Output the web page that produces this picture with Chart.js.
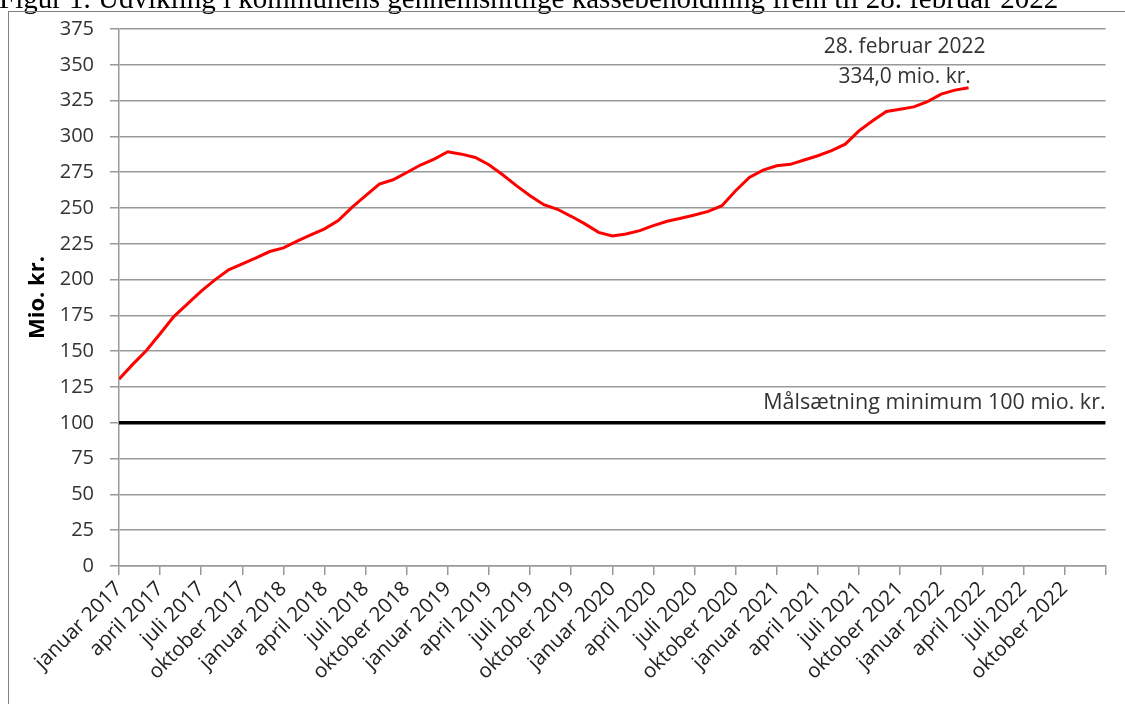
<!DOCTYPE html>
<html>
<head>
<meta charset="utf-8">
<script src="https://cdn.jsdelivr.net/npm/chart.js@4.4.1/dist/chart.umd.min.js"></script>
<style>
  html, body { margin: 0; padding: 0; background: #fff; overflow: hidden; }
  #wrap { position: relative; width: 1125px; height: 704px; }
  #ramme { position: absolute; left: 8px; top: 11px; width: 2000px; height: 2000px;
           border: 1px solid #808080; pointer-events: none; }
</style>
</head>
<body>
<div id="wrap">
  <canvas id="kassebeholdning" width="1125" height="704"></canvas>
  <div id="ramme"></div>
</div>
<script>
/* --------- DATA --------- */
var kvartaler = ['januar 2017','april 2017','juli 2017','oktober 2017',
                 'januar 2018','april 2018','juli 2018','oktober 2018',
                 'januar 2019','april 2019','juli 2019','oktober 2019',
                 'januar 2020','april 2020','juli 2020','oktober 2020',
                 'januar 2021','april 2021','juli 2021','oktober 2021',
                 'januar 2022','april 2022','juli 2022','oktober 2022'];

// gennemsnitlig kassebeholdning, mio. kr., en værdi pr. måned (jan 2017 -> 28. feb 2022)
var kasse = [130.5,140.8,150.5,162.2,174.2,183.1,191.9,199.8,206.8,211.0,215.1,219.6,
             222.1,226.8,231.2,235.4,241.2,250.4,258.6,266.7,269.7,274.8,280.0,284.2,
             289.3,287.6,285.3,280.2,273.2,265.6,258.6,252.3,249.1,244.2,238.9,233.0,
             230.5,231.9,234.2,237.7,240.7,242.8,245.1,247.6,251.6,262.1,271.4,276.5,
             279.5,280.5,283.5,286.5,290.0,294.6,303.9,310.9,317.4,319.0,320.6,324.3,
             329.5,332.3,334.0];

var maalsaetning = 100;
var antalMaaneder = 72;

var titel = 'Figur 1. Udvikling i kommunens gennemsnitlige kassebeholdning frem til 28. februar 2022';
var slutDato = '28. februar 2022';
var slutTekst = '334,0 mio. kr.';
var maalTekst = 'Målsætning minimum 100 mio. kr.';

/* --------- CHART --------- */
Chart.defaults.font.family = '"Open Sans", sans-serif';
Chart.defaults.color = '#333';

var punkter = kasse.map(function (v, i) { return { x: i, y: v }; });
var maalLinje = [{ x: 0, y: maalsaetning }, { x: antalMaaneder, y: maalsaetning }];

var noter = {
  id: 'noter',
  afterDatasetsDraw: function (chart) {
    var ctx = chart.ctx, sx = chart.scales.x, sy = chart.scales.y;
    var n = kasse.length - 1;
    var px = sx.getPixelForValue(n), py = sy.getPixelForValue(kasse[n]);
    ctx.save();
    ctx.fillStyle = '#333';
    ctx.font = '21px "Open Sans"';
    ctx.textAlign = 'center';
    ctx.textBaseline = 'alphabetic';
    ctx.fillText(slutDato, px - 64, py - 35);
    ctx.fillText(slutTekst, px - 64, py - 5);
    ctx.font = '21.5px "Open Sans"';
    ctx.textAlign = 'right';
    ctx.fillText(maalTekst, chart.chartArea.right, sy.getPixelForValue(maalsaetning) - 14);
    // titel (beskaaret i toppen som i originalen)
    ctx.fillStyle = '#000';
    ctx.font = '29px "Liberation Serif"';
    ctx.textAlign = 'left';
    ctx.fillText(titel, -1, 7.5);
    ctx.restore();
  }
};

var ctx = document.getElementById('kassebeholdning');
var myChart = new Chart(ctx, {
  type: 'line',
  data: {
    datasets: [
      {
        data: punkter,
        borderColor: '#ff0000',
        borderWidth: 3,
        pointRadius: 0,
        fill: false,
        tension: 0
      },
      {
        data: maalLinje,
        borderColor: '#000000',
        borderWidth: 3.5,
        pointRadius: 0,
        fill: false
      }
    ]
  },
  options: {
    responsive: false,
    animation: false,
    layout: { padding: { left: 25, top: 29, right: 18, bottom: 0 } },
    plugins: { legend: { display: false }, tooltip: { enabled: false } },
    scales: {
      x: {
        type: 'linear',
        min: 0,
        max: antalMaaneder,
        ticks: {
          stepSize: 3,
          autoSkip: false,
          maxRotation: 45,
          minRotation: 45,
          padding: 2,
          color: '#222',
          font: { size: 20.5 },
          callback: function (v) { return kvartaler[v / 3] || ''; }
        },
        grid: { drawOnChartArea: false, color: '#999', lineWidth: 1.5, tickLength: 9 },
        border: { color: '#999', width: 1.5 },
        afterFit: function (s) { s.height = 138; }
      },
      y: {
        min: 0,
        max: 375,
        ticks: { stepSize: 25, padding: 16, font: { size: 20 } },
        grid: { color: '#999', lineWidth: 1.5, tickLength: 9 },
        border: { color: '#999', width: 1.5 },
        title: { display: true, text: 'Mio. kr.', color: '#000',
                 font: { size: 22, weight: 'bold' }, padding: 0 },
        afterFit: function (s) { s.width = 94; }
      }
    }
  },
  plugins: [noter]
});
</script>
</body>
</html>
